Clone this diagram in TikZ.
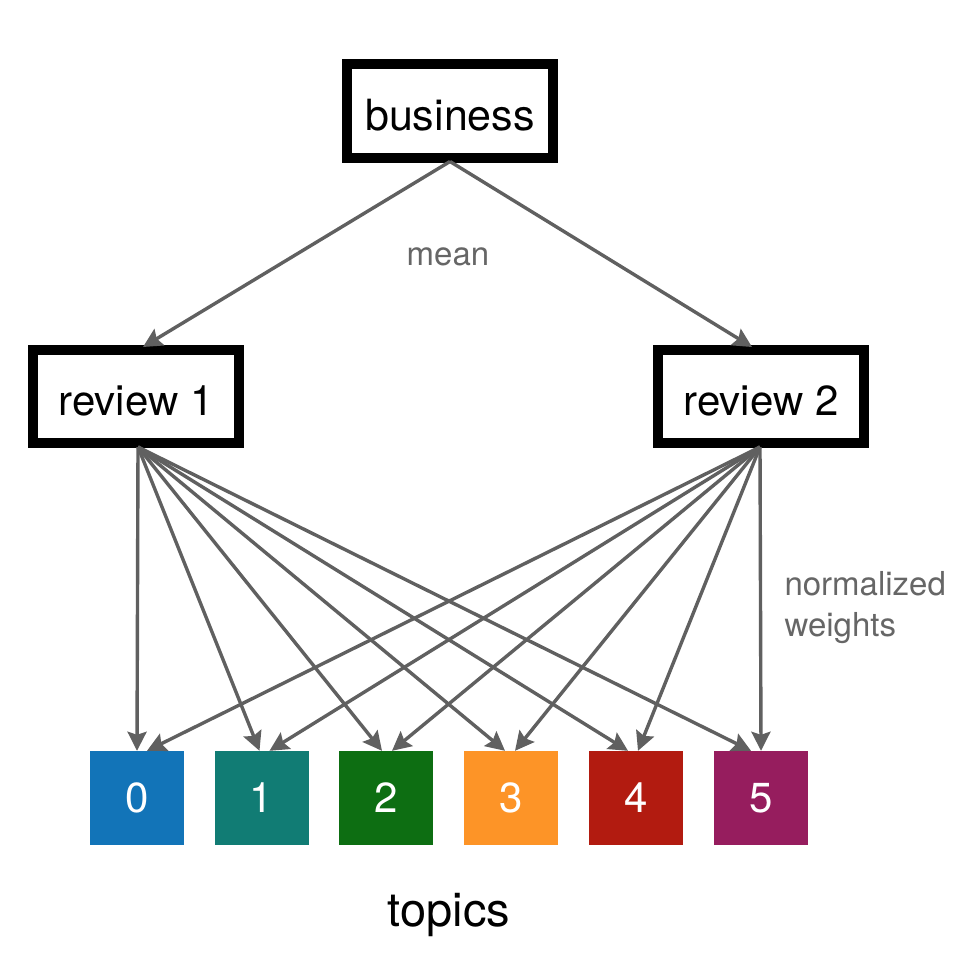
\documentclass[tikz,border=0pt]{standalone}
\usepackage{fontspec}
\setmainfont{TeX Gyre Heros}
\usepackage{tikz}
\usetikzlibrary{arrows.meta}
\definecolor{linegray}{HTML}{606060}
\definecolor{labelgray}{HTML}{666666}
\definecolor{topiczero}{HTML}{1274B8}
\definecolor{topicone}{HTML}{117C74}
\definecolor{topictwo}{HTML}{0D6E12}
\definecolor{topicthree}{HTML}{FD9427}
\definecolor{topicfour}{HTML}{B21B10}
\definecolor{topicfive}{HTML}{961D5E}
\tikzset{
  docbox/.style={draw=black,line width=10pt,fill=white,inner sep=0pt,
    minimum width=206pt,minimum height=93pt,text height=38pt,text depth=0pt},
  topicbox/.style={inner sep=0pt,minimum size=94pt,text=white,
    font=\fontsize{42}{50}\selectfont},
  weightarrow/.style={draw=linegray,line width=3.4pt,
    -{Stealth[length=19pt,width=19pt,inset=3pt]}},
  edgelabel/.style={text=labelgray,font=\fontsize{33}{41}\selectfont}
}
\begin{document}
\begin{tikzpicture}[x=1pt,y=-1pt]
			\useasboundingbox (0,0) rectangle (972,974);

			% documents
			\node[docbox,font=\fontsize{43}{50}\selectfont] (bus) at (450,111) {business};
			\node[docbox,font=\fontsize{42}{49}\selectfont] (rev1) at (136,396.5) {review 1};
			\node[docbox,font=\fontsize{42}{49}\selectfont] (rev2) at (761,396.5) {review 2};

			% topics
			\node[topicbox,fill=topiczero] (t0) at (137,798) {0};
			\node[topicbox,fill=topicone] (t1) at (261.5,798) {1};
			\node[topicbox,fill=topictwo] (t2) at (386,798) {2};
			\node[topicbox,fill=topicthree] (t3) at (511,798) {3};
			\node[topicbox,fill=topicfour] (t4) at (636,798) {4};
			\node[topicbox,fill=topicfive] (t5) at (761,798) {5};

			\coordinate (bus out) at ([yshift=1pt]bus.south);
			\coordinate (rev1 in) at ([xshift=7pt,yshift=-2pt]rev1.north);
			\coordinate (rev2 in) at ([xshift=-9pt,yshift=-2pt]rev2.north);
			\coordinate (rev1 out) at ([xshift=2pt,yshift=1pt]rev1.south);
			\coordinate (rev2 out) at ([xshift=-1pt,yshift=1pt]rev2.south);

			\draw[weightarrow] (bus out) -- (rev1 in);
			\draw[weightarrow] (bus out) -- (rev2 in);

			\foreach \i in {0,...,5} {
				\draw[weightarrow] (rev1 out) -- ([xshift=-2pt*\i]t\i.north);
				\draw[weightarrow] (rev2 out) -- ([xshift=2pt*(5-\i)]t\i.north);
			}

			\node[edgelabel] (meanlbl) at (448,257) {mean};
			\node[edgelabel,anchor=west,align=left] (normlbl) at (781,608) {normalized\\weights};
			\node[font=\fontsize{47}{54}\selectfont] (topicslbl) at (449,915) {topics};
		
		\end{tikzpicture}
\end{document}
